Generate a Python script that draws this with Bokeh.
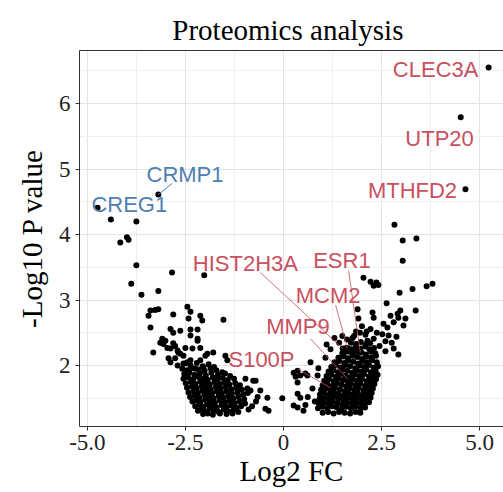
from bokeh.plotting import figure
from bokeh.models import FixedTicker, LinearAxis, ColumnDataSource
from bokeh.embed import file_html
from bokeh.resources import INLINE
from bokeh.core.properties import value

# ---------------- data ----------------
down_points = [
    (-4.40, 4.23), (-3.75, 4.20), (-4.16, 3.88), (-3.95, 3.92), (-3.99, 3.96),
    (-3.75, 3.53), (-2.84, 3.42), (-2.02, 3.38), (-3.88, 3.25), (-3.62, 3.08), (-3.19, 3.14),
    (-3.39, 2.84), (-3.27, 2.85), (-3.19, 2.86), (-3.44, 2.76), (-2.81, 2.78), (-2.45, 2.90),
    (-2.37, 2.82), (-2.42, 2.72), (-2.12, 2.76), (-2.07, 2.69), (-1.53, 2.70), (-3.39, 2.58),
    (-2.88, 2.56), (-2.81, 2.50), (-2.63, 2.53), (-2.37, 2.55), (-2.19, 2.55), (-2.37, 2.46),
    (-3.09, 2.41), (-3.14, 2.35), (-3.06, 2.33), (-2.96, 2.27), (-3.32, 2.20), (-2.76, 2.30),
    (-2.70, 2.23), (-2.63, 2.18), (-2.50, 2.27), (-2.19, 2.38), (-2.12, 2.27), (-1.94, 2.18),
    (-1.79, 2.20), (-1.48, 2.15), (-1.43, 2.08), (-2.88, 2.05), (-2.70, 2.00), (-2.55, 2.03),
    (-2.37, 2.08), (-3.01, 2.38), (-2.88, 2.26), (-2.81, 2.34), (-2.68, 2.20), (-2.76, 2.11),
    (-2.93, 2.11), (-2.55, 2.15), (-2.45, 2.05), (-2.19, 2.41), (-2.32, 2.26), (-1.99, 2.15),
    (-2.12, 2.08), (-2.04, 1.97), (-2.24, 1.95),
    (-2.50, 2.03), (-2.37, 2.00), (-2.21, 2.04), (-2.06, 1.99), (-1.91, 2.02), (-1.77, 1.98),
    (-2.58, 1.95), (-2.45, 1.93), (-2.31, 1.96), (-2.16, 1.94), (-2.01, 1.92), (-1.86, 1.96),
    (-1.71, 1.93), (-1.56, 1.90),
    (-2.53, 1.87), (-2.40, 1.89), (-2.27, 1.86), (-2.13, 1.88), (-1.98, 1.85), (-1.84, 1.89),
    (-1.67, 1.86), (-1.49, 1.88), (-1.36, 1.84),
    (-2.55, 1.80), (-2.43, 1.82), (-2.30, 1.79), (-2.18, 1.83), (-2.05, 1.80), (-1.93, 1.78),
    (-1.80, 1.82), (-1.68, 1.79), (-1.55, 1.81), (-1.42, 1.78), (-1.26, 1.80),
    (-2.49, 1.73), (-2.36, 1.75), (-2.24, 1.72), (-2.12, 1.76), (-2.00, 1.73), (-1.88, 1.71),
    (-1.76, 1.75), (-1.62, 1.72), (-1.50, 1.74), (-1.38, 1.71), (-1.23, 1.73), (-1.11, 1.70),
    (-2.46, 1.66), (-2.33, 1.68), (-2.21, 1.65), (-2.08, 1.69), (-1.96, 1.66), (-1.85, 1.64),
    (-1.72, 1.68), (-1.60, 1.65), (-1.47, 1.67), (-1.33, 1.64), (-1.20, 1.66), (-1.06, 1.63),
    (-2.42, 1.59), (-2.30, 1.61), (-2.18, 1.58), (-2.06, 1.62), (-1.94, 1.59), (-1.82, 1.57),
    (-1.70, 1.61), (-1.57, 1.58), (-1.45, 1.60), (-1.32, 1.57), (-1.18, 1.59), (-1.03, 1.56),
    (-0.91, 1.58),
    (-2.38, 1.52), (-2.27, 1.54), (-2.15, 1.51), (-2.02, 1.55), (-1.90, 1.52), (-1.78, 1.50),
    (-1.65, 1.54), (-1.52, 1.51), (-1.40, 1.53), (-1.28, 1.50), (-1.15, 1.52), (-1.00, 1.49),
    (-2.32, 1.45), (-2.22, 1.47), (-2.12, 1.44), (-2.00, 1.48), (-1.88, 1.45), (-1.75, 1.43),
    (-1.63, 1.47), (-1.50, 1.44), (-1.38, 1.46), (-1.25, 1.43), (-1.12, 1.45), (-0.98, 1.42),
    (-2.25, 1.38), (-2.14, 1.40), (-2.04, 1.37), (-1.95, 1.41), (-1.83, 1.38), (-1.70, 1.36),
    (-1.58, 1.40), (-1.45, 1.37), (-1.33, 1.39), (-1.20, 1.36), (-1.08, 1.38),
    (-2.18, 1.31), (-2.08, 1.33), (-1.98, 1.30), (-1.88, 1.34), (-1.78, 1.31), (-1.65, 1.29),
    (-1.52, 1.33), (-1.40, 1.30), (-1.27, 1.32), (-1.15, 1.29),
    (-2.05, 1.26), (-1.93, 1.27), (-1.80, 1.25), (-1.62, 1.27), (-1.45, 1.26), (-1.30, 1.27),
    (-0.97, 1.80), (-0.77, 1.77), (-0.92, 1.65), (-0.59, 1.62), (-0.71, 1.77), (-0.84, 1.62),
    (-0.41, 1.51), (-0.03, 1.50), (-0.46, 1.34), (-0.38, 1.31), (-0.70, 1.45), (-0.80, 1.38),
    (-0.66, 1.52), (-0.89, 1.33),
]

up_points = [
    (2.83, 4.15), (3.04, 3.91), (3.39, 3.94), (3.04, 3.60), (2.04, 3.34), (2.22, 3.28),
    (2.30, 3.22), (2.37, 3.27), (2.42, 3.23), (2.96, 3.11), (3.29, 3.17), (3.65, 3.21),
    (3.80, 3.25), (2.63, 2.95), (2.98, 2.84), (3.37, 2.84), (1.89, 2.86), (2.27, 2.81),
    (2.73, 2.76), (2.93, 2.73), (1.91, 2.72), (2.30, 2.73), (2.55, 2.64), (2.65, 2.58),
    (2.81, 2.66), (3.06, 2.61), (2.91, 2.79), (3.11, 2.72), (2.52, 2.48), (2.68, 2.46),
    (2.88, 2.44), (2.14, 2.38), (2.30, 2.41), (2.09, 2.47), (2.60, 2.37), (2.76, 2.35),
    (2.81, 2.26), (2.93, 2.17), (2.60, 2.22), (2.45, 2.30), (2.00, 2.60), (2.12, 2.52),
    (1.95, 2.50), (2.22, 2.56), (1.80, 2.45), (2.38, 2.50),
    (1.07, 2.12), (0.69, 2.05), (0.89, 1.96), (0.36, 1.92), (0.61, 1.85), (0.31, 1.83),
    (0.87, 1.85), (0.43, 1.51), (0.74, 1.65), (0.51, 1.31), (0.36, 1.36), (0.26, 1.39),
    (0.26, 1.89), (0.36, 1.74), (0.43, 1.85), (0.56, 1.88), (0.36, 1.57), (0.56, 1.40),
    (0.62, 1.52), (0.80, 1.45), (1.20, 2.25), (1.10, 2.32), (1.30, 2.42), (1.50, 2.45),
    (1.62, 2.40), (1.42, 2.35), (1.76, 2.42), (1.85, 2.52),
    (1.72, 2.35), (1.85, 2.33), (1.97, 2.36), (2.10, 2.32), (2.21, 2.34),
    (1.60, 2.27), (1.73, 2.25), (1.84, 2.28), (1.96, 2.26), (2.08, 2.29), (2.19, 2.25), (2.31, 2.27),
    (1.50, 2.19), (1.62, 2.21), (1.75, 2.18), (1.86, 2.22), (1.99, 2.20), (2.10, 2.17),
    (2.23, 2.21), (2.34, 2.19),
    (1.40, 2.12), (1.53, 2.14), (1.64, 2.11), (1.77, 2.15), (1.88, 2.13), (2.00, 2.10),
    (2.12, 2.14), (2.24, 2.12), (2.36, 2.15),
    (1.30, 2.05), (1.42, 2.07), (1.55, 2.04), (1.66, 2.08), (1.78, 2.06), (1.90, 2.03),
    (2.03, 2.07), (2.14, 2.05), (2.26, 2.08), (2.38, 2.05),
    (1.22, 1.98), (1.34, 2.00), (1.46, 1.97), (1.58, 2.01), (1.70, 1.99), (1.83, 1.96),
    (1.94, 2.00), (2.06, 1.98), (2.18, 2.01), (2.30, 1.97), (2.41, 1.99),
    (1.15, 1.91), (1.27, 1.93), (1.39, 1.90), (1.51, 1.94), (1.63, 1.92), (1.75, 1.89),
    (1.87, 1.93), (1.99, 1.91), (2.11, 1.94), (2.23, 1.90), (2.35, 1.92),
    (1.10, 1.84), (1.22, 1.86), (1.34, 1.83), (1.46, 1.87), (1.58, 1.85), (1.70, 1.82),
    (1.82, 1.86), (1.94, 1.84), (2.06, 1.87), (2.18, 1.83), (2.30, 1.85), (2.40, 1.86),
    (1.04, 1.77), (1.16, 1.79), (1.28, 1.76), (1.40, 1.80), (1.52, 1.78), (1.64, 1.75),
    (1.76, 1.79), (1.88, 1.77), (2.00, 1.80), (2.12, 1.76), (2.24, 1.78), (2.36, 1.79),
    (1.00, 1.70), (1.12, 1.72), (1.24, 1.69), (1.36, 1.73), (1.48, 1.71), (1.60, 1.68),
    (1.72, 1.72), (1.84, 1.70), (1.96, 1.73), (2.08, 1.69), (2.20, 1.71), (2.32, 1.72),
    (0.96, 1.63), (1.08, 1.65), (1.20, 1.62), (1.32, 1.66), (1.44, 1.64), (1.56, 1.61),
    (1.68, 1.65), (1.80, 1.63), (1.92, 1.66), (2.04, 1.62), (2.16, 1.64), (2.28, 1.65),
    (0.93, 1.56), (1.05, 1.58), (1.17, 1.55), (1.29, 1.59), (1.41, 1.57), (1.53, 1.54),
    (1.65, 1.58), (1.77, 1.56), (1.89, 1.59), (2.01, 1.55), (2.13, 1.57), (2.25, 1.58),
    (0.92, 1.49), (1.04, 1.51), (1.16, 1.48), (1.28, 1.52), (1.40, 1.50), (1.52, 1.47),
    (1.64, 1.51), (1.76, 1.49), (1.88, 1.52), (2.00, 1.48), (2.12, 1.50), (2.22, 1.51),
    (0.90, 1.42), (1.02, 1.44), (1.14, 1.41), (1.26, 1.45), (1.38, 1.43), (1.50, 1.40),
    (1.62, 1.44), (1.74, 1.42), (1.86, 1.45), (1.98, 1.41), (2.10, 1.43), (2.18, 1.44),
    (0.88, 1.35), (1.00, 1.37), (1.12, 1.34), (1.24, 1.38), (1.36, 1.36), (1.48, 1.33),
    (1.60, 1.37), (1.72, 1.35), (1.84, 1.38), (1.96, 1.34), (2.08, 1.36),
    (1.00, 1.28), (1.14, 1.29), (1.28, 1.27), (1.42, 1.29), (1.56, 1.28), (1.70, 1.27),
    (1.84, 1.29), (1.96, 1.28),
]

# labelled genes
up_genes = ["CLEC3A", "UTP20", "MTHFD2", "HIST2H3A", "ESR1", "MCM2", "MMP9", "S100P"]
up_gene_x = [5.23, 4.52, 4.64, 1.51, 1.96, 1.63, 1.63, 1.20]
up_gene_y = [6.55, 5.79, 4.69, 2.26, 2.20, 2.27, 1.80, 1.66]
up_label_x = [3.88, 3.98, 3.29, -0.97, 1.49, 1.14, 0.37, -0.56]
up_label_y = [6.52, 5.47, 4.67, 3.56, 3.60, 3.07, 2.59, 2.10]

down_genes = ["CRMP1", "CREG1"]
down_gene_x = [-3.19, -4.74]
down_gene_y = [4.61, 4.41]
down_label_x = [-2.51, -3.93]
down_label_y = [4.91, 4.46]

# segment starting points (label side) for repelled labels
seg_genes = ["HIST2H3A", "ESR1", "MCM2", "MMP9", "S100P"]
seg_x0 = [-0.59, 1.66, 1.33, 0.69, 0.36]
seg_y0 = [3.42, 3.45, 2.92, 2.41, 1.95]
crmp_seg_x0 = [-2.84]
crmp_seg_y0 = [4.78]

x_ticks = [-5.0, -2.5, 0.0, 2.5, 5.0]
x_tick_labels = ["-5.0", "-2.5", "0", "2.5", "5.0"]
y_ticks = [2, 3, 4, 5, 6]
y_tick_labels = ["2", "3", "4", "5", "6"]

RED = "#C8505F"
BLUE = "#4F80B2"
SERIF = "Liberation Serif"
SANS = "Liberation Sans"

p = figure(width=503, height=492, x_range=(-5.20, 5.61), y_range=(1.07, 6.81),
           output_backend="svg", toolbar_location=None,
           min_border_left=79, min_border_right=0, min_border_top=50, min_border_bottom=66,
           title="Proteomics  analysis")
p.background_fill_color = "white"
p.border_fill_color = "white"
p.outline_line_color = None

p.title.text_font = SERIF
p.title.text_font_size = "29px"
p.title.text_font_style = "normal"
p.title.text_color = "black"
p.title.align = "center"

# grid
p.xgrid.ticker = FixedTicker(ticks=x_ticks, minor_ticks=[-3.75, -1.25, 1.25, 3.75])
p.ygrid.ticker = FixedTicker(ticks=y_ticks, minor_ticks=[1.5, 2.5, 3.5, 4.5, 5.5, 6.5])
for g in (p.xgrid, p.ygrid):
    g.grid_line_color = "#E4E4E4"
    g.grid_line_width = 1
    g.minor_grid_line_color = "#EFEFEF"
    g.minor_grid_line_width = 1

# axes
p.xaxis.ticker = FixedTicker(ticks=x_ticks)
p.yaxis.ticker = FixedTicker(ticks=y_ticks)
p.xaxis.major_label_overrides = dict(zip(x_ticks, x_tick_labels))
p.yaxis.major_label_overrides = dict(zip(y_ticks, y_tick_labels))
p.xaxis.axis_label = "Log2 FC"
p.yaxis.axis_label = "-Log10 P value"
for ax in (p.xaxis[0], p.yaxis[0]):
    ax.axis_line_color = "#333333"
    ax.axis_line_width = 1
    ax.major_tick_line_color = "#333333"
    ax.major_tick_out = 4
    ax.major_tick_in = 0
    ax.minor_tick_line_color = None
    ax.major_label_text_font = SERIF
    ax.major_label_text_font_size = "23px"
    ax.major_label_text_color = "#222222"
    ax.axis_label_text_font = SERIF
    ax.axis_label_text_font_size = "29px"
    ax.axis_label_text_font_style = "normal"
    ax.axis_label_text_color = "black"
p.xaxis.major_label_standoff = 4
p.xaxis.axis_label_standoff = 2
p.yaxis.major_label_standoff = 5
p.yaxis.axis_label_standoff = 8

top = LinearAxis(ticker=FixedTicker(ticks=[]), axis_line_color="#333333",
                 major_tick_line_color=None, minor_tick_line_color=None,
                 major_label_text_font_size="0px")
p.add_layout(top, "above")

# points
dx = [a for a, b in down_points]
dy = [b for a, b in down_points]
ux = [a for a, b in up_points]
uy = [b for a, b in up_points]
p.scatter(dx, dy, size=6, color="black", line_color=None)
p.scatter(ux, uy, size=6, color="black", line_color=None)
p.scatter(up_gene_x, up_gene_y, size=6, color="black", line_color=None)
p.scatter(down_gene_x, down_gene_y, size=6, color="black", line_color=None)

# segments
seg_x1 = [up_gene_x[up_genes.index(g)] for g in seg_genes]
seg_y1 = [up_gene_y[up_genes.index(g)] for g in seg_genes]
p.segment(seg_x0, seg_y0, seg_x1, seg_y1, line_color=RED, line_width=1, line_alpha=0.8)
p.segment(crmp_seg_x0, crmp_seg_y0, [down_gene_x[0]], [down_gene_y[0]],
          line_color=BLUE, line_width=1)

# labels
up_src = ColumnDataSource(dict(x=up_label_x, y=up_label_y, t=up_genes))
down_src = ColumnDataSource(dict(x=down_label_x, y=down_label_y, t=down_genes))
p.text(x="x", y="y", text="t", source=up_src, text_color=RED, text_align="center",
       text_baseline="middle", text_font=value(SANS), text_font_size="22px")
p.text(x="x", y="y", text="t", source=down_src, text_color=BLUE, text_align="center",
       text_baseline="middle", text_font=value(SANS), text_font_size="22px")

open("out.html", "w").write(file_html(p, INLINE))
